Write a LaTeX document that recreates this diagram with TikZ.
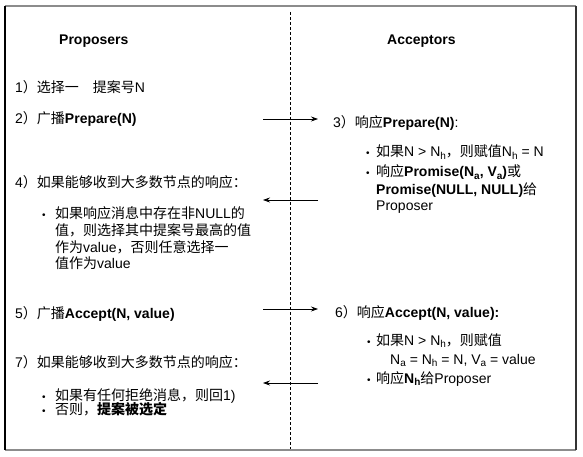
\documentclass[tikz,border=0pt]{standalone}
\usepackage{fontspec}
\setmainfont{Liberation Sans}
\newfontfamily\cjk{Noto Sans CJK SC}
\usetikzlibrary{arrows.meta}
\newcommand{\C}[1]{{\cjk #1}}
\newcommand{\lo}[1]{\raisebox{-0.35ex}{\fontsize{10}{10}\selectfont #1}}
\tikzset{
  txt/.style={inner sep=0pt, anchor=base west, font=\fontsize{14}{16}\selectfont},
  ttl/.style={inner sep=0pt, anchor=base west, font=\fontsize{14}{16}\selectfont\bfseries},
  bl/.style={inner sep=0pt, anchor=base west, font=\fontsize{10}{10}\selectfont},
  msg/.style={line width=0.7pt, -{Stealth[length=7pt,width=5pt]}},
}
\begin{document}
\begin{tikzpicture}[x=1pt,y=-1pt]
\useasboundingbox (0,0) rectangle (583,457);
% frame
\draw[black!45, line width=2pt] (5,6) -- (576,6);
\draw[black!45, line width=2pt] (5,450) -- (576,450);
\draw[black, line width=1.2pt] (5,6) -- (5,450);
\draw[black!80, line width=1.2pt] (576,6) -- (576,450);
% divider
\coordinate (dt) at (290,12);
\coordinate (db) at (290,449);
\draw[line width=0.7pt, dash pattern=on 3pt off 2pt] (dt) -- (db);
% titles
\node[ttl] (tp) at (59,45) {Proposers};
\node[ttl] (ta) at (387,45) {Acceptors};
% proposer side
\node[txt] (p1) at (15,93) {1\C{）选择一　提案号}N};
\node[txt] (p2) at (15,124) {2\C{）广播}\textbf{Prepare(N)}};
\node[txt] (p4) at (15,188) {4\C{）如果能够收到大多数节点的响应：}};
\node[bl] (b41) at (42,218) {\textbullet};
\node[txt] (p41) at (55,218) {\C{如果响应消息中存在非}NULL\C{的}};
\node[txt] (p42) at (55,235) {\C{值，则选择其中提案号最高的值}};
\node[txt] (p43) at (55,252) {\C{作为}value\C{，否则任意选择一}};
\node[txt] (p44) at (55,268) {\C{值作为}value};
\node[txt] (p5) at (15,318) {5\C{）广播}\textbf{Accept(N, value)}};
\node[txt] (p7) at (15,367) {7\C{）如果能够收到大多数节点的响应：}};
\node[bl] (b71) at (42,400) {\textbullet};
\node[txt] (p71) at (55,400) {\C{如果有任何拒绝消息，则回}1)};
\node[bl] (b72) at (42,414) {\textbullet};
\node[txt] (p72) at (55,414) {\C{否则，}\textbf{\C{提案被选定}}};
% acceptor side
\node[txt] (a3) at (333,128) {3\C{）响应}\textbf{Prepare(N)}:};
\node[bl] (b31) at (366,157) {\textbullet};
\node[txt] (a31) at (376,157) {\C{如果}N > N\lo{h}\C{，则赋值}N\lo{h} = N};
\node[bl] (b32) at (366,177) {\textbullet};
\node[txt] (a32) at (376,177) {\C{响应}\textbf{Promise(N\lo{a}, V\lo{a})}\C{或}};
\node[txt] (a33) at (376,194) {\textbf{Promise(NULL, NULL)}\C{给}};
\node[txt] (a34) at (376,210) {Proposer};
\node[txt] (a6) at (335,317) {6\C{）响应}\textbf{Accept(N, value):}};
\node[bl] (b61) at (367,345) {\textbullet};
\node[txt] (a61) at (376,345) {\C{如果}N > N\lo{h}\C{，则赋值}};
\node[txt] (a62) at (390,364) {N\lo{a} = N\lo{h} = N, V\lo{a} = value};
\node[bl] (b63) at (367,383) {\textbullet};
\node[txt] (a63) at (376,383) {\C{响应}\textbf{N\lo{h}}\C{给}Proposer};
% messages
\coordinate (m1s) at (263,119); \coordinate (m1e) at (318,119);
\coordinate (m2s) at (318,200); \coordinate (m2e) at (263,200);
\coordinate (m3s) at (263,309); \coordinate (m3e) at (318,309);
\coordinate (m4s) at (318,383); \coordinate (m4e) at (263,383);
\draw[msg] (m1s) -- (m1e);
\draw[msg] (m2s) -- (m2e);
\draw[msg] (m3s) -- (m3e);
\draw[msg] (m4s) -- (m4e);
\end{tikzpicture}
\end{document}
